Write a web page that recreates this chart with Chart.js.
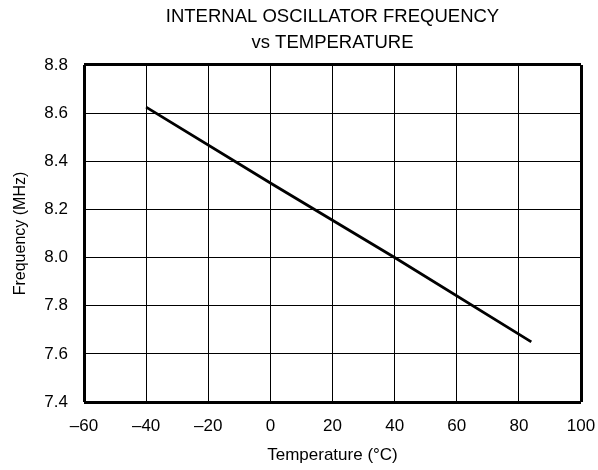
<!DOCTYPE html>
<html>
<head>
<meta charset="utf-8">
<script src="https://cdn.jsdelivr.net/npm/chart.js@4.4.0/dist/chart.umd.min.js"></script>
<style>
  html, body { margin: 0; padding: 0; background: #fff; }
  #wrap { width: 598px; height: 470px; }
</style>
</head>
<body>
<div id="wrap"><canvas id="chart" width="598" height="470"></canvas></div>
<script>
// Frequency vs temperature
const temps = [-40, 0, 40, 84];
const freqs = [8.625, 8.31, 8.0, 7.65];

const titleLines = ["INTERNAL OSCILLATOR FREQUENCY", "vs TEMPERATURE"];
const xLabel = "Temperature (\u00B0C)";
const yLabel = "Frequency (MHz)";

const FONT = "'Liberation Sans', Arial, sans-serif";

// Thick frame at the edges, thin grid inside
function edgeWidth(ctx, count) {
  return (ctx.index === 0 || ctx.index === count - 1) ? 3 : 1;
}

new Chart(document.getElementById("chart"), {
  type: "line",
  data: {
    datasets: [{
      data: temps.map((t, i) => ({ x: t, y: freqs[i] })),
      borderColor: "#000",
      borderWidth: 2.8,
      pointRadius: 0,
      tension: 0,
      fill: false
    }]
  },
  options: {
    responsive: false,
    animation: false,
    layout: { padding: { left: 4, right: 17, top: 0, bottom: 2 } },
    plugins: {
      legend: { display: false },
      tooltip: { enabled: false },
      title: {
        display: true,
        fullSize: false, // center over the plot, not the canvas
        text: titleLines,
        color: "#000",
        font: { family: FONT, size: 18.5, weight: "normal", lineHeight: 1.405 },
        padding: { top: 4, bottom: 9 }
      }
    },
    scales: {
      x: {
        type: "linear",
        min: -60,
        max: 100,
        afterFit: s => { s.height = 66; s.paddingRight = 17; s.paddingLeft = 0; },
        ticks: {
          stepSize: 20,
          color: "#000",
          font: { family: FONT, size: 17, lineHeight: 1.0 },
          padding: 16,
          maxRotation: 0,
          callback: v => String(v).replace("-", "\u2013")
        },
        grid: {
          color: "#000",
          lineWidth: ctx => edgeWidth(ctx, 9),
          drawTicks: false
        },
        border: { display: false },
        title: {
          display: true,
          text: xLabel,
          color: "#000",
          font: { family: FONT, size: 17, lineHeight: 1.0 },
          padding: { top: 0, bottom: 4.5 }
        }
      },
      y: {
        type: "linear",
        min: 7.4,
        max: 8.8,
        afterFit: s => { s.width = 80; },
        ticks: {
          stepSize: 0.2,
          color: "#000",
          font: { family: FONT, size: 17 },
          padding: 16,
          callback: v => Number(v).toFixed(1)
        },
        grid: {
          color: "#000",
          lineWidth: ctx => edgeWidth(ctx, 8),
          drawTicks: false
        },
        border: { display: false },
        title: {
          display: true,
          text: yLabel,
          color: "#000",
          font: { family: FONT, size: 16, lineHeight: 1.0 },
          padding: { top: 9, bottom: 0 }
        }
      }
    }
  }
});
</script>
</body>
</html>
